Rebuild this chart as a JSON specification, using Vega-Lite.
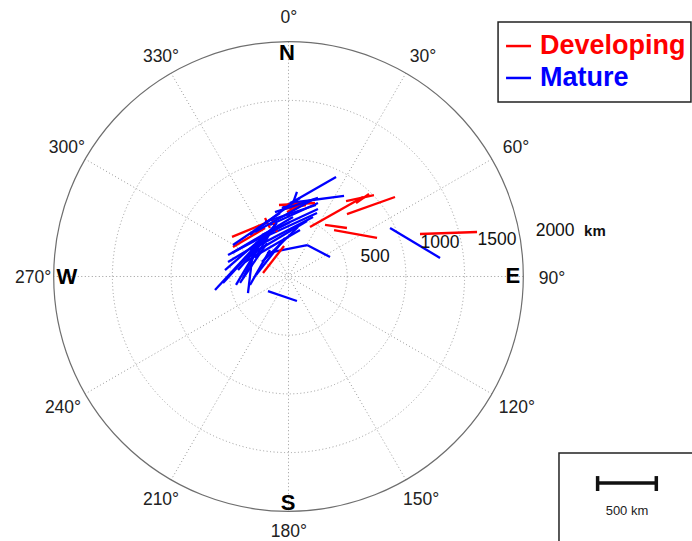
{
  "$schema": "https://vega.github.io/schema/vega-lite/v6.json",
  "width": 692,
  "height": 541,
  "autosize": "none",
  "padding": 0,
  "background": "white",
  "config": {"view": {"stroke": null}, "font": "Liberation Sans"},
  "datasets": {
    "segs": [
      {"stage": "Mature", "x": 405, "y": 848, "x2": -55, "y2": 584},
      {"stage": "Mature", "x": 473, "y": 686, "x2": 13, "y2": 626},
      {"stage": "Developing", "x": -481, "y": 337, "x2": -175, "y2": 464},
      {"stage": "Developing", "x": -473, "y": 251, "x2": -200, "y2": 413},
      {"stage": "Mature", "x": 72, "y": 720, "x2": -4, "y2": 507},
      {"stage": "Mature", "x": 251, "y": 626, "x2": -158, "y2": 439},
      {"stage": "Mature", "x": 251, "y": 575, "x2": -226, "y2": 354},
      {"stage": "Developing", "x": -81, "y": 609, "x2": 226, "y2": 626},
      {"stage": "Mature", "x": 243, "y": 541, "x2": -260, "y2": 311},
      {"stage": "Mature", "x": 209, "y": 507, "x2": -328, "y2": 226},
      {"stage": "Mature", "x": 158, "y": 473, "x2": -371, "y2": 158},
      {"stage": "Developing", "x": -47, "y": 575, "x2": 149, "y2": 609},
      {"stage": "Mature", "x": 354, "y": 166, "x2": 158, "y2": 268},
      {"stage": "Mature", "x": 158, "y": 268, "x2": -183, "y2": 200},
      {"stage": "Mature", "x": -175, "y": -124, "x2": 72, "y2": -209},
      {"stage": "Developing", "x": -141, "y": 490, "x2": -98, "y2": 379},
      {"stage": "Mature", "x": -626, "y": -115, "x2": -98, "y2": 456},
      {"stage": "Mature", "x": -558, "y": -55, "x2": -158, "y2": 379},
      {"stage": "Mature", "x": -541, "y": 55, "x2": -226, "y2": 328},
      {"stage": "Developing", "x": -200, "y": 498, "x2": -158, "y2": 413},
      {"stage": "Mature", "x": -481, "y": 200, "x2": 38, "y2": 507},
      {"stage": "Mature", "x": -447, "y": -72, "x2": -260, "y2": 243},
      {"stage": "Mature", "x": -413, "y": -55, "x2": -183, "y2": 285},
      {"stage": "Mature", "x": -345, "y": -141, "x2": -302, "y2": 226},
      {"stage": "Mature", "x": -473, "y": 268, "x2": -72, "y2": 541},
      {"stage": "Mature", "x": -515, "y": 183, "x2": 13, "y2": 464},
      {"stage": "Developing", "x": -13, "y": 549, "x2": 98, "y2": 601},
      {"stage": "Mature", "x": -328, "y": 354, "x2": -13, "y2": 592},
      {"stage": "Mature", "x": -430, "y": 55, "x2": -115, "y2": 413},
      {"stage": "Developing", "x": -217, "y": 30, "x2": -38, "y2": 260},
      {"stage": "Mature", "x": -277, "y": 13, "x2": -30, "y2": 328},
      {"stage": "Mature", "x": -328, "y": -72, "x2": -158, "y2": 226},
      {"stage": "Mature", "x": -371, "y": 124, "x2": 98, "y2": 396},
      {"stage": "Mature", "x": -226, "y": 124, "x2": 81, "y2": 422},
      {"stage": "Mature", "x": -515, "y": 124, "x2": -175, "y2": 328},
      {"stage": "Mature", "x": -285, "y": 379, "x2": 200, "y2": 652},
      {"stage": "Mature", "x": -200, "y": 464, "x2": 234, "y2": 609},
      {"stage": "Mature", "x": -115, "y": 549, "x2": 251, "y2": 669},
      {"stage": "Mature", "x": -388, "y": -13, "x2": -226, "y2": 311},
      {"stage": "Mature", "x": -285, "y": 158, "x2": -115, "y2": 439},
      {"stage": "Mature", "x": -55, "y": 566, "x2": 98, "y2": 669},
      {"stage": "Developing", "x": 183, "y": 422, "x2": 635, "y2": 677},
      {"stage": "Developing", "x": 498, "y": 532, "x2": 907, "y2": 677},
      {"stage": "Developing", "x": 490, "y": 643, "x2": 728, "y2": 694},
      {"stage": "Developing", "x": 575, "y": 626, "x2": 686, "y2": 703},
      {"stage": "Developing", "x": 311, "y": 439, "x2": 498, "y2": 413},
      {"stage": "Developing", "x": 388, "y": 396, "x2": 754, "y2": 328},
      {"stage": "Mature", "x": 865, "y": 413, "x2": 1291, "y2": 158},
      {"stage": "Developing", "x": 1120, "y": 362, "x2": 1606, "y2": 379}
    ],
    "grid": [{"x": 0, "y": 0, "r": 500}, {"x": 0, "y": 0, "r": 1000}, {"x": 0, "y": 0, "r": 1500}],
    "outer": [{"x": 0, "y": 0, "r": 2000}],
    "spokes": [
      {"x": 0, "y": 2000, "x2": 0, "y2": -2000},
      {"x": 1000, "y": 1732, "x2": -1000, "y2": -1732},
      {"x": 1732, "y": 1000, "x2": -1732, "y2": -1000},
      {"x": 2000, "y": 0, "x2": -2000, "y2": 0},
      {"x": 1732, "y": -1000, "x2": -1732, "y2": 1000},
      {"x": 1000, "y": -1732, "x2": -1000, "y2": 1732}
    ],
    "angles": [
      {"label": "0°", "x": 4, "y": 2202},
      {"label": "30°", "x": 1146, "y": 1870},
      {"label": "60°", "x": 1938, "y": 1094},
      {"label": "90°", "x": 2244, "y": -21},
      {"label": "120°", "x": 1946, "y": -1120},
      {"label": "150°", "x": 1129, "y": -1904},
      {"label": "180°", "x": 4, "y": -2180},
      {"label": "210°", "x": -1086, "y": -1904},
      {"label": "240°", "x": -1921, "y": -1120},
      {"label": "270°", "x": -2176, "y": -13},
      {"label": "300°", "x": -1887, "y": 1094},
      {"label": "330°", "x": -1086, "y": 1870}
    ],
    "compass": [
      {"label": "N", "x": -13, "y": 1908},
      {"label": "E", "x": 1912, "y": 4},
      {"label": "S", "x": -4, "y": -1929},
      {"label": "W", "x": -1887, "y": -4}
    ],
    "ringLabels": [
      {"label": "500", "x": 737, "y": 166},
      {"label": "1000", "x": 1290, "y": 285},
      {"label": "1500", "x": 1776, "y": 311},
      {"label": "2000", "x": 2271, "y": 388}
    ],
    "kmLabel": [{"label": "km", "x": 2610, "y": 385}],
    "legendBox": [{"x": 1785, "y": 2168, "x2": 3428, "y2": 1486}],
    "legendLines": [
      {"stage": "Developing", "x": 1853, "x2": 2066, "y": 1963},
      {"stage": "Mature", "x": 1853, "x2": 2066, "y": 1691}
    ],
    "legendText": [
      {"stage": "Developing", "x": 2142, "y": 1963},
      {"stage": "Mature", "x": 2142, "y": 1691}
    ],
    "scaleBox": [{"x": 2304, "y": -1503, "x2": 3450, "y2": -2400}],
    "scaleBar": [{"x": 2633, "x2": 3133, "y": -1759}],
    "scaleTicks": [
      {"x": 2633, "y": -1700, "y2": -1827},
      {"x": 3133, "y": -1700, "y2": -1827}
    ],
    "scaleText": [{"label": "500 km", "x": 2883, "y": -1997}]
  },
  "encoding": {
    "x": {"field": "x", "type": "quantitative", "scale": {"domain": [-2457.4, 3437], "nice": false, "zero": false}, "axis": null},
    "y": {"field": "y", "type": "quantitative", "scale": {"domain": [-2253, 2355.2], "nice": false, "zero": false}, "axis": null}
  },
  "layer": [
    {
      "data": {"name": "spokes"},
      "mark": {"type": "rule", "color": "#9a9a9a", "strokeWidth": 1, "strokeDash": [1, 2.5]},
      "encoding": {"x2": {"field": "x2"}, "y2": {"field": "y2"}}
    },
    {
      "data": {"name": "grid"},
      "mark": {"type": "point", "shape": "circle", "filled": false, "color": "#9a9a9a", "strokeWidth": 1, "strokeDash": [1, 2.5], "opacity": 1},
      "encoding": {"size": {"field": "r", "type": "quantitative", "scale": {"type": "pow", "exponent": 2, "domain": [0, 2000], "range": [0, 220520]}, "legend": null}}
    },
    {
      "data": {"name": "outer"},
      "mark": {"type": "point", "shape": "circle", "filled": false, "color": "#6e6e6e", "strokeWidth": 1.2, "opacity": 1},
      "encoding": {"size": {"field": "r", "type": "quantitative", "scale": {"type": "pow", "exponent": 2, "domain": [0, 2000], "range": [0, 220520]}, "legend": null}}
    },
    {
      "data": {"name": "segs"},
      "mark": {"type": "rule", "strokeWidth": 2.3, "strokeCap": "butt"},
      "encoding": {
        "x2": {"field": "x2"}, "y2": {"field": "y2"},
        "color": {"field": "stage", "type": "nominal", "scale": {"domain": ["Developing", "Mature"], "range": ["#ff0000", "#0000ff"]}, "legend": null}
      }
    },
    {
      "data": {"name": "angles"},
      "mark": {"type": "text", "fontSize": 17.5, "color": "#222222", "align": "center", "baseline": "middle"},
      "encoding": {"text": {"field": "label"}}
    },
    {
      "data": {"name": "compass"},
      "mark": {"type": "text", "fontSize": 22, "fontWeight": "bold", "color": "black", "align": "center", "baseline": "middle"},
      "encoding": {"text": {"field": "label"}}
    },
    {
      "data": {"name": "ringLabels"},
      "mark": {"type": "text", "fontSize": 17.5, "color": "#111111", "align": "center", "baseline": "middle"},
      "encoding": {"text": {"field": "label"}}
    },
    {
      "data": {"name": "kmLabel"},
      "mark": {"type": "text", "fontSize": 15, "fontWeight": "bold", "color": "#111111", "align": "center", "baseline": "middle"},
      "encoding": {"text": {"field": "label"}}
    },
    {
      "data": {"name": "legendBox"},
      "mark": {"type": "rect", "fill": "white", "stroke": "#222222", "strokeWidth": 1.5},
      "encoding": {"x2": {"field": "x2"}, "y2": {"field": "y2"}}
    },
    {
      "data": {"name": "legendLines"},
      "mark": {"type": "rule", "strokeWidth": 2.5},
      "encoding": {
        "x2": {"field": "x2"},
        "color": {"field": "stage", "type": "nominal", "scale": {"domain": ["Developing", "Mature"], "range": ["#ff0000", "#0000ff"]}, "legend": null}
      }
    },
    {
      "data": {"name": "legendText"},
      "mark": {"type": "text", "fontSize": 27, "fontWeight": "bold", "align": "left", "baseline": "middle"},
      "encoding": {
        "text": {"field": "stage"},
        "color": {"field": "stage", "type": "nominal", "scale": {"domain": ["Developing", "Mature"], "range": ["#ff0000", "#0000ff"]}, "legend": null}
      }
    },
    {
      "data": {"name": "scaleBox"},
      "mark": {"type": "rect", "fill": "white", "stroke": "#222222", "strokeWidth": 1.5},
      "encoding": {"x2": {"field": "x2"}, "y2": {"field": "y2"}}
    },
    {
      "data": {"name": "scaleBar"},
      "mark": {"type": "rule", "strokeWidth": 3.5, "color": "#111111"},
      "encoding": {"x2": {"field": "x2"}}
    },
    {
      "data": {"name": "scaleTicks"},
      "mark": {"type": "rule", "strokeWidth": 3.5, "color": "#111111"},
      "encoding": {"y2": {"field": "y2"}}
    },
    {
      "data": {"name": "scaleText"},
      "mark": {"type": "text", "fontSize": 13, "color": "#222222", "align": "center", "baseline": "middle"},
      "encoding": {"text": {"field": "label"}}
    }
  ]
}
